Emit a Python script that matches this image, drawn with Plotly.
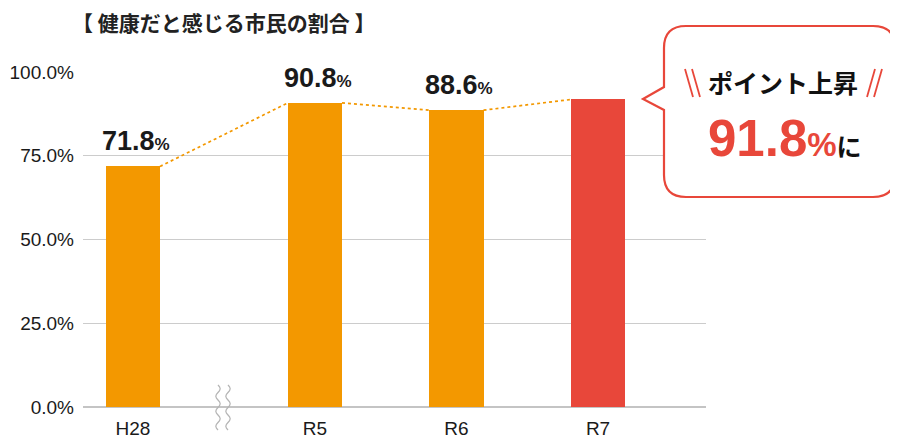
import plotly.graph_objects as go
import math

# ---- data ----
categories = ["H28", "R5", "R6", "R7"]
values = [71.8, 90.8, 88.6, 91.8]
value_labels = ["71.8", "90.8", "88.6", "91.8"]
y_ticks = [0, 25, 50, 75, 100]
y_tick_labels = ["0.0%", "25.0%", "50.0%", "75.0%", "100.0%"]
title_text = "【 健康だと感じる市民の割合 】"
callout_line1 = "ポイント上昇"
callout_value = "91.8"

# ---- layout helpers ----
ORANGE = "#F39800"
RED = "#E8473A"
TXT = "#1a1a1a"
FONT = "Liberation Sans, Arial, Noto Sans CJK JP, sans-serif"
JFONT = "Noto Sans CJK JP, sans-serif"

GAP = 0.286  # extra space after first category (axis break)
xpos = [i + (GAP if i > 0 else 0) for i in range(len(categories))]
BW = 0.382
colors = [ORANGE, ORANGE, ORANGE, RED]

OFF = 8  # page body margin
W, H = 898, 445
PL, PR, PT, PB = 83, 706, 72, 407  # plot area in screen pixels
L, T = PL - OFF, PT - OFF
R, B = W - (PR - OFF), H - (PB - OFF)
PW, PH = PR - PL, PB - PT


def px(x, y):
    return ((x - PL) / PW, (PB - y) / PH)


def P(x, y):
    a, b = px(x, y)
    return f"{a:.5f},{b:.5f}"


fig = go.Figure()
fig.add_trace(go.Bar(x=xpos, y=values, width=BW, marker=dict(color=colors, line=dict(width=0)),
                     hoverinfo="skip"))

# dotted connectors between bar top corners
for i in range(len(values) - 1):
    fig.add_trace(go.Scatter(
        x=[xpos[i] + BW / 2, xpos[i + 1] - BW / 2], y=[values[i], values[i + 1]],
        mode="lines", line=dict(color=ORANGE, width=1.7, dash="dot"), hoverinfo="skip"))

annotations = []
for i in range(len(values) - 1):
    annotations.append(dict(
        x=xpos[i], y=values[i], xref="x", yref="y", yanchor="bottom", xanchor="center",
        yshift=8, xshift=3, showarrow=False,
        text=f"<b>{value_labels[i]}</b><b><span style='font-size:17px'>%</span></b>",
        font=dict(family=FONT, size=27, color=TXT)))

# title
tx, ty = px(224, 22)
annotations.append(dict(x=tx, y=ty, xref="paper", yref="paper", xanchor="center", yanchor="middle",
                        showarrow=False, text=f"<b>{title_text}</b>",
                        font=dict(family=JFONT, size=21, color="#222")))

# callout texts
cx, cy = px(783, 82)
annotations.append(dict(x=cx, y=cy, xref="paper", yref="paper", xanchor="center", yanchor="middle",
                        showarrow=False, text=f"<b>{callout_line1}</b>",
                        font=dict(family=JFONT, size=25, color="#111")))
vx, vy = px(785, 138)
annotations.append(dict(
    x=vx, y=vy, xref="paper", yref="paper", xanchor="center", yanchor="middle", showarrow=False,
    text=(f"<b><span style='color:{RED}'>{callout_value}</span></b>"
          f"<b><span style='color:{RED};font-size:33px'>%</span></b>"
          f"<b><span style='font-family:Noto Sans CJK JP;font-size:25px;color:#111'>に</span></b>"),
    font=dict(family=FONT, size=51, color=RED)))

shapes = []
# bubble
l_, r_, t_, b_, rad = 664, 895, 26, 197, 22
path = (f"M {P(l_ + rad, t_)} L {P(r_ - rad, t_)} Q {P(r_, t_)} {P(r_, t_ + rad)} "
        f"L {P(r_, b_ - rad)} Q {P(r_, b_)} {P(r_ - rad, b_)} "
        f"L {P(l_ + rad, b_)} Q {P(l_, b_)} {P(l_, b_ - rad)} "
        f"L {P(l_, 110)} L {P(643, 99)} L {P(l_, 87)} "
        f"L {P(l_, t_ + rad)} Q {P(l_, t_)} {P(l_ + rad, t_)} Z")
shapes.append(dict(type="path", xref="paper", yref="paper", path=path,
                   fillcolor="white", line=dict(color=RED, width=2.2), layer="above"))

# slashes
for (x0, y0, x1, y1) in [(685, 69, 693, 97), (692, 69, 700, 97),
                         (875, 69, 867, 97), (882, 69, 874, 97)]:
    a0, b0 = px(x0, y0)
    a1, b1 = px(x1, y1)
    shapes.append(dict(type="line", xref="paper", yref="paper", x0=a0, y0=b0, x1=a1, y1=b1,
                       line=dict(color=RED, width=1.8), layer="above"))

# axis-break squiggles
for sx in [218, 228]:
    segs = []
    n = 24
    for k in range(n + 1):
        yy = 385 + 45 * k / n
        xx = sx + 2.2 * math.sin(k / n * 2 * math.pi * 3)
        segs.append(P(xx, yy))
    spath = "M " + " L ".join(segs)
    shapes.append(dict(type="path", xref="paper", yref="paper", path=spath,
                       line=dict(color="#b5b5b5", width=1.2), layer="above"))

fig.update_layout(
    width=W, height=H, margin=dict(l=L, r=R, t=T, b=B, autoexpand=False),
    paper_bgcolor="white", plot_bgcolor="white", showlegend=False,
    bargap=0,
    xaxis=dict(range=[-0.353, 4.049], tickvals=xpos, ticktext=categories, showgrid=False,
               zeroline=False, showline=False, ticks="", ticklabelstandoff=8, automargin=False,
               tickfont=dict(family=FONT, size=19, color=TXT), fixedrange=True),
    yaxis=dict(range=[0, 100], tickvals=y_ticks, ticktext=y_tick_labels, showgrid=True,
               gridcolor="#cccccc", gridwidth=1, zeroline=True, zerolinecolor="#c4c4c4",
               zerolinewidth=1.5, showline=False, ticks="", ticklabelstandoff=8, automargin=False,
               tickfont=dict(family=FONT, size=19, color=TXT), fixedrange=True),
    annotations=annotations, shapes=shapes,
)

fig.write_html("out.html")
